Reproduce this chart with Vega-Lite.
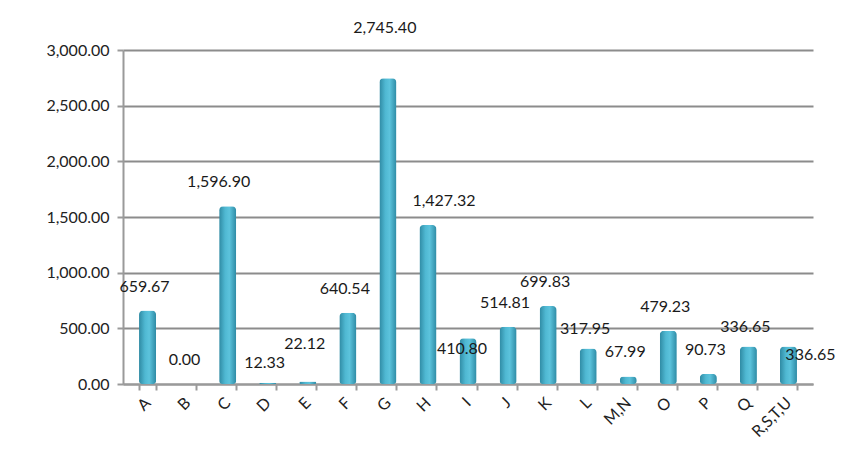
{
  "$schema": "https://vega.github.io/schema/vega-lite/v6.json",
  "autosize": {"type": "none"},
  "width": 690,
  "height": 334,
  "padding": {"left": 123, "top": 50, "right": 49, "bottom": 88},
  "background": "white",
  "config": {
    "view": {"stroke": null},
    "font": "Lato",
    "axis": {"labelFont": "Lato", "labelColor": "#222222", "labelFontSize": 16}
  },
  "data": {
    "values": [
      {"sector": "A", "value": 659.67},
      {"sector": "B", "value": 0.00},
      {"sector": "C", "value": 1596.90},
      {"sector": "D", "value": 12.33},
      {"sector": "E", "value": 22.12},
      {"sector": "F", "value": 640.54},
      {"sector": "G", "value": 2745.40},
      {"sector": "H", "value": 1427.32},
      {"sector": "I", "value": 410.80},
      {"sector": "J", "value": 514.81},
      {"sector": "K", "value": 699.83},
      {"sector": "L", "value": 317.95},
      {"sector": "M,N", "value": 67.99},
      {"sector": "O", "value": 479.23},
      {"sector": "P", "value": 90.73},
      {"sector": "Q", "value": 336.65},
      {"sector": "R,S,T,U", "value": 336.65}
    ]
  },
  "encoding": {
    "x": {
      "field": "sector", "type": "nominal", "sort": null,
      "scale": {"paddingInner": 0.575, "paddingOuter": 0.4},
      "axis": {
        "title": null, "labelAngle": -45, "labelAlign": "right", "labelBaseline": "middle",
        "labelPadding": 10, "labelOverlap": false, "tickBand": "extent", "domainColor": "#9a9a9a", "domainWidth": 2,
        "tickColor": "#9a9a9a", "tickWidth": 2, "tickSize": 6, "grid": false
      }
    },
    "y": {
      "field": "value", "type": "quantitative",
      "scale": {"domain": [0, 3000], "nice": false},
      "axis": {
        "title": null, "format": ",.2f", "values": [0, 500, 1000, 1500, 2000, 2500, 3000],
        "labelOverlap": false,
        "grid": true, "gridColor": "#8c8c8c", "gridWidth": 2,
        "domainColor": "#9a9a9a", "domainWidth": 2, "tickColor": "#9a9a9a", "tickWidth": 2,
        "tickSize": 6, "labelPadding": 8
      }
    }
  },
  "layer": [
    {
      "mark": {
        "type": "bar",
        "cornerRadiusTopLeft": 4, "cornerRadiusTopRight": 4,
        "cornerRadiusBottomLeft": 3, "cornerRadiusBottomRight": 3,
        "color": {
          "gradient": "linear", "x1": 0, "y1": 0, "x2": 1, "y2": 0,
          "stops": [
            {"offset": 0, "color": "#2f8aa3"},
            {"offset": 0.35, "color": "#4fb8d2"},
            {"offset": 0.6, "color": "#5cc3dc"},
            {"offset": 1, "color": "#2e8ba5"}
          ]
        }
      }
    },
    {
      "mark": {
        "type": "text", "fontSize": 16, "font": "Lato", "color": "#1a1a1a",
        "dx": {"expr": "datum.sector == 'C' ? -9 : datum.sector == 'H' ? 16 : datum.sector == 'I' ? -6 : datum.sector == 'R,S,T,U' ? 22 : -3"},
        "dy": {"expr": "datum.sector == 'G' ? -50 : datum.sector == 'E' ? -38 : datum.sector == 'I' ? 11 : datum.sector == 'R,S,T,U' ? 8 : (datum.sector == 'L' || datum.sector == 'Q' || datum.sector == 'D') ? -20 : -24"}
      },
      "encoding": {"text": {"field": "value", "type": "quantitative", "format": ",.2f"}}
    }
  ]
}
